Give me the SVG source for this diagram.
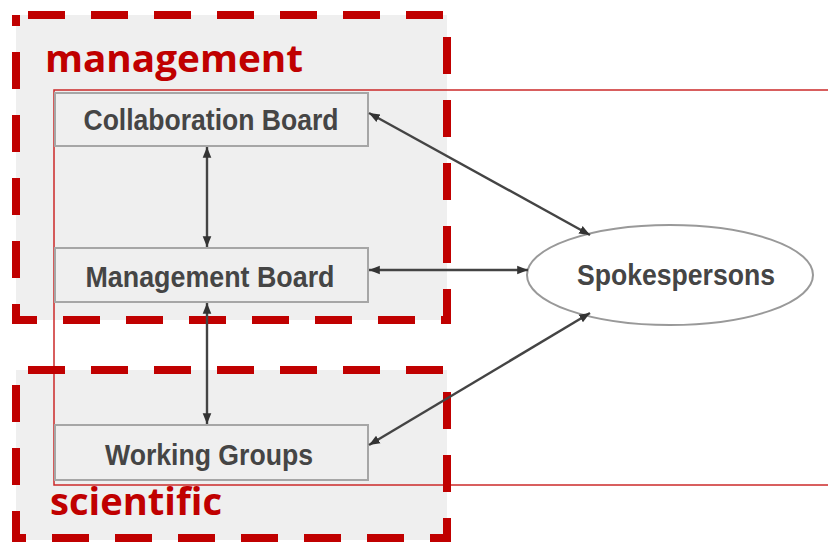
<svg xmlns="http://www.w3.org/2000/svg" width="828" height="543" viewBox="0 0 828 543">
<style>
.grp{fill:#efefef;stroke:none}
.dash{fill:none;stroke:#c00000;stroke-width:8;stroke-dasharray:37 26}
.glabel{font-family:"Open Sans","Liberation Sans",sans-serif;font-weight:bold;font-size:38px;fill:#c00000}
.box{fill:#efefef;stroke:#a6a6a6;stroke-width:2}
.ntext{font-family:"Liberation Sans",Arial,sans-serif;font-weight:bold;font-size:29px;fill:#454545}
.conn{stroke:#444;stroke-width:2.4;fill:none;marker-start:url(#ah);marker-end:url(#ah)}
</style>
<defs>
<marker id="ah" viewBox="0 0 10 10" refX="10" refY="5" markerWidth="4.5" markerHeight="4.5" orient="auto-start-reverse" markerUnits="strokeWidth">
<path d="M0,1 L10,5 L0,9 z" fill="#333"/>
</marker>
</defs>
<rect width="828" height="543" fill="#ffffff"/>
<g id="group-management-bg"><rect class="grp" x="16" y="15" width="431" height="305"/></g>
<g id="group-scientific-bg"><rect class="grp" x="16" y="370" width="431" height="170"/></g>
<rect x="54" y="90" width="790" height="395" fill="none" stroke="#cc2a2a" stroke-width="1.5"/>
<g id="collaboration-board">
<rect class="box" x="55" y="93" width="313" height="53"/>
<text class="ntext" x="211" y="130" text-anchor="middle" textLength="255" lengthAdjust="spacingAndGlyphs">Collaboration Board</text>
</g>
<g id="management-board">
<rect class="box" x="55" y="248" width="313" height="54"/>
<text class="ntext" x="210" y="287" text-anchor="middle" textLength="249" lengthAdjust="spacingAndGlyphs">Management Board</text>
</g>
<g id="working-groups">
<rect class="box" x="55" y="425" width="313" height="55"/>
<text class="ntext" x="209" y="465" text-anchor="middle" textLength="208" lengthAdjust="spacingAndGlyphs">Working Groups</text>
</g>
<g id="spokespersons">
<ellipse cx="670" cy="275" rx="143" ry="50" fill="#ffffff" stroke="#999" stroke-width="2"/>
<text class="ntext" x="676" y="285" text-anchor="middle" textLength="198" lengthAdjust="spacingAndGlyphs">Spokespersons</text>
</g>
<g id="group-management">
<rect class="dash" x="16" y="15" width="431" height="305" stroke-dashoffset="-12"/>
<text class="glabel" x="45" y="72" textLength="258" lengthAdjust="spacingAndGlyphs">management</text>
</g>
<g id="group-scientific">
<rect class="dash" x="16" y="370" width="431" height="168" stroke-dashoffset="-12"/>
<text class="glabel" x="50" y="515" textLength="172" lengthAdjust="spacingAndGlyphs">scientific</text>
</g>
<g id="connectors">
<line class="conn" x1="369" y1="113" x2="590" y2="235"/>
<line class="conn" x1="369" y1="270" x2="528" y2="270"/>
<line class="conn" x1="369" y1="445" x2="590" y2="313"/>
<line class="conn" x1="207" y1="147" x2="207" y2="247"/>
<line class="conn" x1="207" y1="303" x2="207" y2="424"/>
</g>
</svg>
